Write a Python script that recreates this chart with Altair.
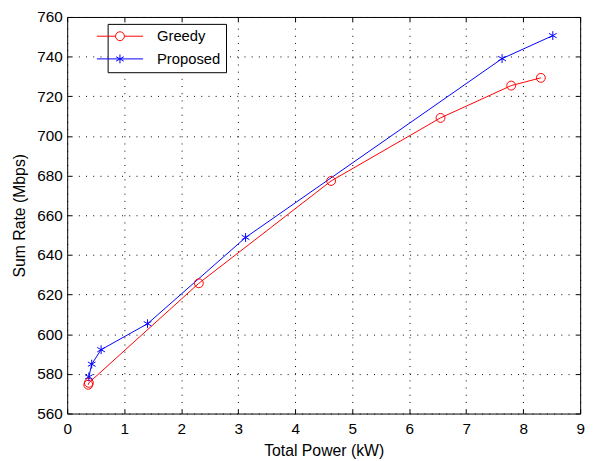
import altair as alt
import pandas as pd

series_names = ["Greedy", "Proposed"]
greedy_power = [0.37, 0.38, 2.31, 4.63, 6.55, 7.79, 8.31]
greedy_rate = [574.5, 575.5, 625.7, 677.3, 709.1, 725.4, 729.3]
proposed_power = [0.38, 0.43, 0.595, 1.41, 3.13, 7.63, 8.52]
proposed_rate = [578.5, 584.9, 592.2, 605.3, 648.8, 739.0, 750.6]
x_ticks = [0, 1, 2, 3, 4, 5, 6, 7, 8, 9]
y_ticks = [560, 580, 600, 620, 640, 660, 680, 700, 720, 740, 760]

df = pd.concat([
    pd.DataFrame({"power": greedy_power, "rate": greedy_rate, "series": "Greedy"}),
    pd.DataFrame({"power": proposed_power, "rate": proposed_rate, "series": "Proposed"}),
], ignore_index=True)

W, H = 520, 402
FONT = "Liberation Sans"
RED, BLUE = "#ff0000", "#0000ff"
STAR = "M0,-1L0,1M-0.866,-0.5L0.866,0.5M-0.866,0.5L0.866,-0.5"
# legend glyphs: a line through the marker; the zero-length segments draw
# nothing, they only widen the legend box to the reference's size
LEG_PAD = "M-6.1,0L-6.1,0M21.7,0L21.7,0"
LEG_GREEDY = LEG_PAD + "M-5.2,0L-1,0M1,0L5.2,0M-1,0A1,1,0,1,1,1,0A1,1,0,1,1,-1,0"
LEG_PROP = LEG_PAD + "M-5.2,0L5.2,0" + STAR


def grid_dash(length, tick=5.0, dot=1.0, gap=6.2):
    inner = length - 2 * tick
    n = int((inner - gap) // (dot + gap))
    g = (inner - n * dot) / (n + 1)
    arr = [tick]
    for _ in range(n):
        arr += [g, dot]
    arr += [g, tick, 5000]
    return [round(v, 3) for v in arr]


x_scale = alt.Scale(domain=[0, 9], nice=False, zero=False)
y_scale = alt.Scale(domain=[560, 760], nice=False, zero=False)
x_enc = alt.X("power:Q", scale=x_scale,
              axis=alt.Axis(values=x_ticks, format="d", labelFlush=False,
                            title="Total Power (kW)", grid=True,
                            gridDash=grid_dash(H), labelPadding=8, titlePadding=6))
y_enc = alt.Y("rate:Q", scale=y_scale,
              axis=alt.Axis(values=y_ticks, format="d", labelFlush=False,
                            title="Sum Rate (Mbps)", grid=True,
                            gridDash=grid_dash(W), labelPadding=5, titlePadding=9))
x_plain = alt.X("power:Q", scale=x_scale)
y_plain = alt.Y("rate:Q", scale=y_scale)

base = alt.Chart(df)
greedy = base.transform_filter(alt.datum.series == "Greedy")
proposed = base.transform_filter(alt.datum.series == "Proposed")

greedy_line = greedy.mark_line(strokeWidth=1, color=RED).encode(x=x_enc, y=y_enc)
prop_line = proposed.mark_line(strokeWidth=1, color=BLUE).encode(x=x_plain, y=y_plain)

greedy_pts = greedy.mark_point(
    shape="circle", filled=False, size=81, strokeWidth=1, color=RED, opacity=1
).encode(x=x_plain, y=y_plain)

prop_pts = proposed.mark_point(
    shape=STAR, filled=False, size=81, strokeWidth=1, color=BLUE, opacity=1
).encode(x=x_plain, y=y_plain)

legend_layer = base.mark_point(filled=False, opacity=0, size=81).encode(
    x=x_plain, y=y_plain,
    color=alt.Color("series:N", scale=alt.Scale(domain=series_names, range=[RED, BLUE]),
                    legend=alt.Legend(
                        title=None, orient="none", legendX=41, legendY=7,
                        fillColor="white", strokeColor="black", padding=5,
                        symbolSize=81, symbolStrokeWidth=1, symbolOpacity=1,
                        symbolFillColor="transparent",
                        labelFont=FONT, labelFontSize=15, labelColor="black",
                        labelOffset=30, rowPadding=7,
                    )),
    shape=alt.Shape("series:N", scale=alt.Scale(domain=series_names, range=[LEG_GREEDY, LEG_PROP]),
                    legend=alt.Legend(title=None, orient="none", legendX=41, legendY=7)),
)

chart = alt.layer(greedy_line, prop_line, greedy_pts, prop_pts, legend_layer).properties(
    width=W, height=H,
    autosize=alt.AutoSizeParams(type="none"),
    padding={"left": 60, "top": 6, "right": 12, "bottom": 45},
    background="white",
).configure_view(
    stroke="black", strokeWidth=1
).configure_axis(
    domain=False, ticks=False, tickSize=0,
    gridColor="black", gridOpacity=1, gridWidth=1,
    labelFont=FONT, labelFontSize=15.5, labelColor="black",
    titleFont=FONT, titleFontSize=16, titleColor="black", titleFontWeight="normal",
)

chart.save("out.html", embed_options={"renderer": "svg", "actions": False})
